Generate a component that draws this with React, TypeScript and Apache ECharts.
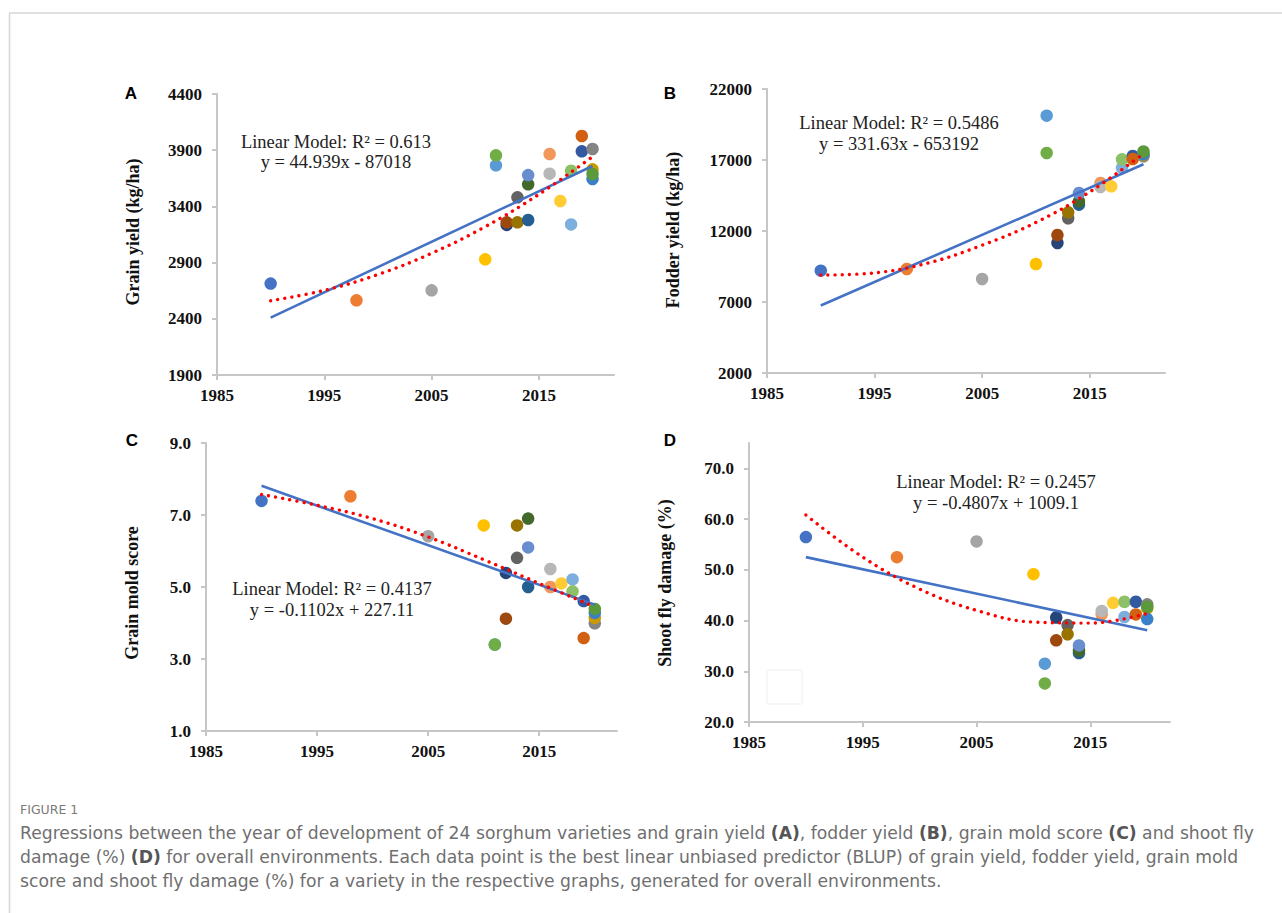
import React, { useEffect, useRef } from "react";
import * as echarts from "echarts";

// ---- data ----
const years = [1990, 1998, 2005, 2010, 2011, 2011, 2012, 2012, 2013, 2013, 2014, 2014, 2014, 2016, 2016, 2017, 2018, 2018, 2019, 2019, 2020, 2020, 2020, 2020];
const varietyColors = ["#4472C4", "#ED7D31", "#A5A5A5", "#FFC000", "#5B9BD5", "#70AD47", "#264478", "#9E480E", "#636363", "#997300", "#255E91", "#43682B", "#698ED0", "#F1975A", "#B7B7B7", "#FFCD33", "#7CAFDD", "#8CC168", "#335AA1", "#D26012", "#848484", "#CC9A00", "#3A80C8", "#5A9A3A"];
const grainYield = [2713, 2564, 2653, 2929, 3765, 3854, 3235, 3258, 3481, 3258, 3279, 3596, 3679, 3866, 3691, 3448, 3240, 3718, 3890, 4026, 3911, 3730, 3644, 3688];
const fodderYield = [9207, 9324, 8620, 9676, 20122, 17493, 11155, 11718, 12892, 13315, 13854, 14089, 14676, 15380, 15099, 15146, 16450, 17050, 17280, 17070, 17260, 17350, 17400, 17600];
const moldScore = [7.39, 7.52, 6.41, 6.71, 3.4, 3.4, 5.39, 4.12, 5.81, 6.71, 5.0, 6.9, 6.1, 5.0, 5.5, 5.1, 5.21, 4.88, 4.61, 3.58, 3.99, 4.14, 4.28, 4.39];
const shootFly = [56.45, 52.5, 55.6, 49.14, 31.5, 27.6, 40.6, 36.1, 39.1, 37.3, 33.6, 34.1, 35.1, 41.2, 41.9, 43.5, 40.7, 43.7, 43.7, 41.2, 43.2, 42.4, 40.3, 42.7];

const linearYears = [1990, 2020];
const linearA = [2411, 3759];
const linearB = [6752, 16701];
const linearC = [7.81, 4.51];
const linearD = [52.5, 38.1];

const polyYears = [1990, 1995, 2000, 2005, 2010, 2015, 2020];
const polyA = [2561, 2653, 2794, 2983, 3220, 3507, 3842];
const polyB = [8900, 9050, 9750, 11000, 12600, 14750, 17450];
const polyC = [7.57, 7.27, 6.9, 6.39, 5.76, 5.1, 4.45];
const polyD = [60.8, 52.5, 46.2, 42.0, 39.7, 39.5, 41.4];

const xTicks = [1985, 1995, 2005, 2015];
const yTicksA = [1900, 2400, 2900, 3400, 3900, 4400];
const yTicksB = [2000, 7000, 12000, 17000, 22000];
const yTicksC = [1, 3, 5, 7, 9];
const yTicksD = [20, 30, 40, 50, 60, 70];

const panelLetters = ["A", "B", "C", "D"];
const axisTitles = ["Grain yield (kg/ha)", "Fodder yield (kg/ha)", "Grain mold score", "Shoot fly damage (%)"];
const modelLines = [
  ["Linear Model: R² = 0.613", "y = 44.939x - 87018"],
  ["Linear Model: R² = 0.5486", "y = 331.63x - 653192"],
  ["Linear Model: R² = 0.4137", "y = -0.1102x + 227.11"],
  ["Linear Model: R² = 0.2457", "y = -0.4807x + 1009.1"],
];

const AXIS_COLOR = "#c6c6c6";
const SERIF = "'Liberation Serif', 'Times New Roman', serif";
const CAPTION_FAMILY = "'DejaVu Sans', 'Noto Sans', sans-serif";

export default function App() {
  const ref = useRef<HTMLDivElement>(null);

  useEffect(() => {
    if (!ref.current) return;
    const chart = echarts.init(ref.current, null, { renderer: "svg" });

    const grids = [
      { left: 217, top: 94, width: 397, height: 281 },
      { left: 767, top: 89, width: 398, height: 284 },
      { left: 206, top: 443, width: 411, height: 288 },
      { left: 749, top: 443, width: 421, height: 279 },
    ];
    const yRanges = [
      { min: 1900, max: 4400, ticks: yTicksA, dec: 0 },
      { min: 2000, max: 22000, ticks: yTicksB, dec: 0 },
      { min: 1, max: 9, ticks: yTicksC, dec: 1 },
      { min: 20, max: 75, ticks: yTicksD, dec: 1 },
    ];
    const values = [grainYield, fodderYield, moldScore, shootFly];
    const linears = [linearA, linearB, linearC, linearD];
    const polys = [polyA, polyB, polyC, polyD];

    const xAxis = grids.map((_, i) => ({
      type: "value",
      gridIndex: i,
      min: 1985,
      max: 2022,
      splitLine: { show: false },
      axisLine: { show: true, lineStyle: { color: AXIS_COLOR, width: 2 } },
      axisTick: { show: true, length: 5, lineStyle: { color: AXIS_COLOR, width: 2 }, customValues: xTicks },
      axisLabel: {
        customValues: xTicks,
        margin: 12,
        fontFamily: SERIF,
        fontWeight: "bold",
        fontSize: 17,
        color: "#111",
        formatter: (v: number) => String(v),
      },
    }));

    const yAxis = grids.map((_, i) => ({
      type: "value",
      gridIndex: i,
      min: yRanges[i].min,
      max: yRanges[i].max,
      splitLine: { show: false },
      axisLine: { show: true, lineStyle: { color: AXIS_COLOR, width: 2 } },
      axisTick: { show: true, length: 5, lineStyle: { color: AXIS_COLOR, width: 2 }, customValues: yRanges[i].ticks },
      axisLabel: {
        customValues: yRanges[i].ticks,
        margin: 15,
        fontFamily: SERIF,
        fontWeight: "bold",
        fontSize: 17,
        color: "#111",
        formatter: (v: number) => v.toFixed(yRanges[i].dec),
      },
    }));

    const series: any[] = [];
    grids.forEach((_, i) => {
      series.push({
        type: "scatter",
        xAxisIndex: i,
        yAxisIndex: i,
        symbol: "circle",
        symbolSize: 12.5,
        z: 2,
        data: years.map((yr, k) => ({
          value: [yr, values[i][k]],
          itemStyle: { color: varietyColors[k], opacity: 1 },
        })),
      });
      series.push({
        type: "line",
        xAxisIndex: i,
        yAxisIndex: i,
        showSymbol: false,
        symbol: "none",
        z: 3,
        lineStyle: { color: "#4472C4", width: 2.6 },
        data: linearYears.map((yr, k) => [yr, linears[i][k]]),
      });
      series.push({
        type: "line",
        xAxisIndex: i,
        yAxisIndex: i,
        showSymbol: false,
        symbol: "none",
        smooth: 0.4,
        z: 4,
        lineStyle: { color: "#FF0000", width: 3.4, type: [0.01, 7.2], cap: "round" },
        data: polyYears.map((yr, k) => [yr, polys[i][k]]),
      });
    });

    const letterPos = [
      [131, 93],
      [670, 93],
      [132, 440],
      [670, 440],
    ];
    const titlePos = [
      [133, 232],
      [673, 230],
      [132, 593],
      [665, 583],
    ];
    const modelPos = [
      [336, 142, 162],
      [899, 123, 144],
      [332, 589, 610],
      [996, 482, 503],
    ];

    const graphics: any[] = [
      { type: "line", shape: { x1: 9, y1: 13, x2: 1282, y2: 13 }, style: { stroke: "#d6d6d6", lineWidth: 1.5 }, silent: true },
      { type: "line", shape: { x1: 9.5, y1: 13, x2: 9.5, y2: 913 }, style: { stroke: "#d6d6d6", lineWidth: 1.5 }, silent: true },
      { type: "rect", shape: { x: 767, y: 670, width: 35, height: 34 }, style: { fill: "#ffffff", stroke: "#efefef", lineWidth: 1 }, silent: true },
    ];
    panelLetters.forEach((t, i) => {
      graphics.push({
        type: "text",
        x: letterPos[i][0],
        y: letterPos[i][1],
        style: {
          text: t,
          fill: "#000",
          font: "bold 17px 'Liberation Sans', Arial, sans-serif",
          textAlign: "center",
          textVerticalAlign: "middle",
        },
      });
    });
    axisTitles.forEach((t, i) => {
      graphics.push({
        type: "text",
        x: titlePos[i][0],
        y: titlePos[i][1],
        rotation: Math.PI / 2,
        style: {
          text: t,
          fill: "#111",
          font: "bold 18px " + SERIF,
          textAlign: "center",
          textVerticalAlign: "middle",
        },
      });
    });
    modelLines.forEach((lines, i) => {
      lines.forEach((t, j) => {
        graphics.push({
          type: "text",
          x: modelPos[i][0],
          y: modelPos[i][1 + j],
          z: 10,
          style: {
            text: t,
            fill: "#222",
            font: "18.5px " + SERIF,
            textAlign: "center",
            textVerticalAlign: "middle",
          },
        });
      });
    });

    const captionFont = "17.2px " + CAPTION_FAMILY;
    const rich = { b: { fontWeight: "bold", fill: "#555", fontSize: 17.2, fontFamily: CAPTION_FAMILY } };
    graphics.push({
      type: "text",
      x: 20,
      y: 809,
      style: { text: "FIGURE 1", fill: "#7a7a7a", font: "12.5px " + CAPTION_FAMILY, textVerticalAlign: "middle" },
    });
    const captionLines = [
      "Regressions between the year of development of 24 sorghum varieties and grain yield {b|(A)}, fodder yield {b|(B)}, grain mold score {b|(C)} and shoot fly",
      "damage (%) {b|(D)} for overall environments. Each data point is the best linear unbiased predictor (BLUP) of grain yield, fodder yield, grain mold",
      "score and shoot fly damage (%) for a variety in the respective graphs, generated for overall environments.",
    ];
    captionLines.forEach((t, j) => {
      graphics.push({
        type: "text",
        x: 20,
        y: 833 + j * 24,
        style: { text: t, fill: "#6f6f6f", font: captionFont, textVerticalAlign: "middle", rich },
      });
    });

    chart.setOption({
      animation: false,
      backgroundColor: "#ffffff",
      grid: grids.map((g) => ({ ...g, containLabel: false })),
      xAxis,
      yAxis,
      series,
      graphic: graphics,
    });

    return () => chart.dispose();
  }, []);

  return <div ref={ref} style={{ position: "absolute", left: 0, top: 0, width: 1282, height: 913 }} />;
}
